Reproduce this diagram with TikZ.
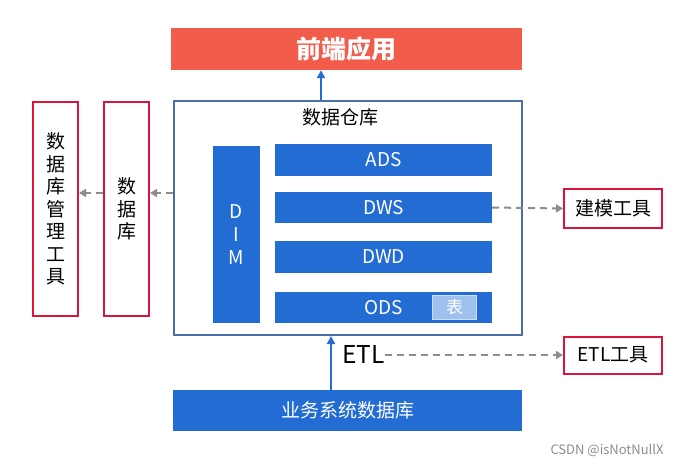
\documentclass[tikz,border=0pt]{standalone}
\usepackage{fontspec}
\setmainfont{Noto Sans CJK SC}
\usetikzlibrary{arrows,arrows.meta}
\definecolor{frontred}{RGB}{242,92,75}
\definecolor{layerblue}{RGB}{34,108,212}
\definecolor{dwframe}{RGB}{72,110,172}
\definecolor{toolred}{RGB}{220,20,60}
\definecolor{tablefill}{RGB}{160,192,240}
\definecolor{tableline}{RGB}{205,222,248}
\definecolor{dashgray}{RGB}{140,140,140}
\tikzset{
    block/.style = {rectangle, inner sep=0pt, align=center},
    layer/.style = {block, fill=layerblue, text=white,
        font=\fontsize{19}{23}\selectfont},
    tool/.style = {block, draw=toolred, line width=2pt, fill=white,
        font=\fontsize{19}{22.5}\selectfont},
    dashline/.style = {draw, color=dashgray, line width=2pt,
        dash pattern=on 7pt off 5pt, -{Triangle[length=7pt,width=8pt]}},
    upline/.style = {draw, color=layerblue, line width=2.2pt,
        -{Triangle[length=8pt,width=8pt]}}
}
\begin{document}
\begin{tikzpicture}[x=1pt, y=-1pt, auto]
    \useasboundingbox (0,0) rectangle (695,466);
    \node [block, fill=frontred, text=white, minimum width=351pt, minimum height=42pt,
        font=\fontsize{25}{30}\selectfont\bfseries] (front) at (346.5,49) {前端应用};
    \node [block, draw=dwframe, line width=2pt, minimum width=348pt, minimum height=234pt] (dw) at (348,218) {};
    \node [block, font=\fontsize{19}{23}\selectfont] (dwlabel) at (340,117) {数据仓库};
    \node [layer, minimum width=47pt, minimum height=177pt] (dim) at (236.5,234.5) {D\\I\\M};
    \node [layer, minimum width=217pt, minimum height=32pt] (ads) at (383.5,160) {ADS};
    \node [layer, minimum width=217pt, minimum height=31pt] (dws) at (383.5,207.5) {DWS};
    \node [layer, minimum width=217pt, minimum height=32pt] (dwd) at (383.5,257) {DWD};
    \node [layer, minimum width=217pt, minimum height=31pt] (ods) at (383.5,307.5) {ODS};
    \node [block, fill=tablefill, draw=tableline, line width=1.5pt, text=white,
        minimum width=44pt, minimum height=24pt, font=\fontsize{17}{20}\selectfont] (tbl) at (454.5,307.5) {表};
    \node [layer, minimum width=349pt, minimum height=41pt] (biz) at (347.5,410.5) {业务系统数据库};
    \node [tool, minimum width=45pt, minimum height=214pt] (dbtool) at (55.5,209) {数\\据\\库\\管\\理\\工\\具};
    \node [tool, minimum width=45pt, minimum height=214pt] (db) at (126.5,209) {数\\据\\库};
    \node [tool, minimum width=98pt, minimum height=39pt] (model) at (613,208.5) {建模工具};
    \node [tool, minimum width=98pt, minimum height=37pt] (etltool) at (613,355) {ETL工具};
    \node [block, font=\fontsize{24.5}{28}\selectfont] (etl) at (363.5,355) {ETL};
    \node [block, text=black!45, font=\fontsize{13}{15}\selectfont] (mark) at (607,450) {CSDN @isNotNullX};

    \draw [upline] (dw.north -| 321,0) -- (front.south -| 321,0);
    \draw [upline] (biz.north -| 331,0) -- (dw.south -| 331,0);
    \draw [dashline] (dws.east) -- (model.west);
    \draw [dashline] (etl.east) -- (etltool.west);
    \draw [dashline] (dw.west |- 0,193) -- (db.east |- 0,193);
    \draw [dashline] (db.west |- 0,193) -- (dbtool.east |- 0,193);
\end{tikzpicture}
\end{document}
